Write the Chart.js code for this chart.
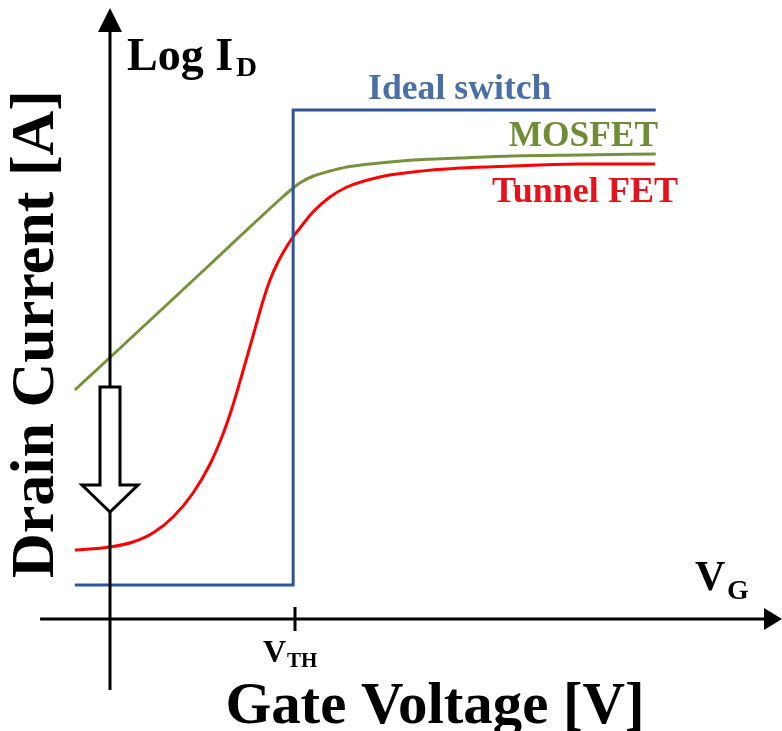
<!DOCTYPE html>
<html><head><meta charset="utf-8">
<script src="https://cdn.jsdelivr.net/npm/chart.js@4.4.0/dist/chart.umd.min.js"></script>
<style>html,body{margin:0;padding:0;background:#fff;overflow:hidden}#wrap{position:relative;width:782px;height:731px}</style>
</head><body><div id="wrap"><canvas id="c"></canvas></div>
<script>
// Schematic transfer characteristics. x: gate voltage (V_TH = 1), y: log drain current (decades)
const seriesNames = ['Ideal switch', 'MOSFET', 'Tunnel FET'];
const idealX  = [-0.19, 0.99, 0.99, 2.95];
const idealY  = [0.68, 0.68, 10.18, 10.18];
const mosfetX = [-0.19, 0.00, 0.50, 0.80, 0.93, 0.99, 1.03, 1.10, 1.19, 1.28, 1.46, 1.64, 1.89, 2.18, 2.54, 2.95];
const mosfetY = [4.58, 5.23, 6.95, 7.99, 8.43, 8.62, 8.73, 8.86, 8.96, 9.04, 9.12, 9.18, 9.22, 9.26, 9.28, 9.30];
const tfetX   = [-0.19, 0.00, 0.124, 0.232, 0.341, 0.449, 0.541, 0.611, 0.665, 0.719, 0.773, 0.827, 0.865, 0.908, 0.957, 0.989, 1.027, 1.097, 1.189, 1.281, 1.459, 1.638, 1.892, 2.178, 2.541, 2.946];
const tfetY   = [1.38, 1.44, 1.54, 1.72, 2.04, 2.52, 3.10, 3.70, 4.28, 4.96, 5.66, 6.36, 6.78, 7.14, 7.46, 7.64, 7.82, 8.14, 8.44, 8.64, 8.84, 8.94, 9.02, 9.06, 9.10, 9.10];
const xTicks  = [1];               // V_TH
const xTickMain = 'V', xTickSub = 'TH';
const yTitleMain = 'Log I', yTitleSub = 'D';
const xTitleMain = 'V', xTitleSub = 'G';
const yAxisTitle = 'Drain Current [A]';
const xAxisTitle = 'Gate Voltage [V]';
const arrowFrom = 4.64, arrowTo = 2.14;   // off-current reduction arrow (at V_G = 0)

const colors = {ideal:'#2f5597', mosfet:'#76923c', tfet:'#ff0000',
  idealText:'#4a6ea6', mosfetText:'#6f8c37', tfetText:'#e8101a'};

const pts = (xs, ys) => xs.map((x, i) => ({x, y: ys[i]}));
const FONT = '"Liberation Serif","Times New Roman",serif';

function txt(ctx, s, x, y, size, color, align, sx) {
  ctx.save();
  ctx.translate(x, y);
  ctx.scale(sx || 1, 1);
  ctx.font = 'bold ' + size + 'px ' + FONT;
  ctx.fillStyle = color;
  ctx.textAlign = align || 'left';
  ctx.textBaseline = 'alphabetic';
  ctx.fillText(s, 0, 0);
  ctx.restore();
}

const decor = {
  id: 'decor',
  afterDatasetsDraw(chart) {
    const ctx = chart.ctx, xs = chart.scales.x, ys = chart.scales.y;
    const X = v => xs.getPixelForValue(v), Y = v => ys.getPixelForValue(v);
    const ox = X(0), oy = Y(0);
    ctx.save();
    ctx.strokeStyle = '#000'; ctx.fillStyle = '#000'; ctx.lineWidth = 3; ctx.lineCap = 'butt';
    // x axis
    const xr = X(xs.max);
    ctx.beginPath(); ctx.moveTo(X(-0.378), oy); ctx.lineTo(xr - 12, oy); ctx.stroke();
    ctx.beginPath(); ctx.moveTo(xr, oy); ctx.lineTo(xr - 18, oy - 11); ctx.lineTo(xr - 18, oy + 11); ctx.closePath(); ctx.fill();
    // y axis
    const yt = Y(12.22);
    ctx.beginPath(); ctx.moveTo(ox, Y(-1.42)); ctx.lineTo(ox, yt + 14); ctx.stroke();
    ctx.beginPath(); ctx.moveTo(ox, yt); ctx.lineTo(ox - 12, yt + 24); ctx.lineTo(ox + 12, yt + 24); ctx.closePath(); ctx.fill();
    // ticks
    xTicks.forEach(t => { ctx.beginPath(); ctx.moveTo(X(t), oy - 12); ctx.lineTo(X(t), oy + 12); ctx.stroke(); });
    // hollow arrow
    const a0 = Y(arrowFrom), a1 = Y(arrowTo), hb = a1 - 27;
    ctx.beginPath();
    ctx.moveTo(ox - 10, a0); ctx.lineTo(ox + 10, a0); ctx.lineTo(ox + 10, hb); ctx.lineTo(ox + 28, hb);
    ctx.lineTo(ox, a1); ctx.lineTo(ox - 28, hb); ctx.lineTo(ox - 10, hb); ctx.closePath();
    ctx.fillStyle = '#fff'; ctx.fill(); ctx.lineJoin = 'miter'; ctx.stroke();
    ctx.restore();

    // texts
    txt(ctx, yTitleMain, ox + 17, 70, 46, '#000', 'left', 1);
    ctx.save(); ctx.font = 'bold 46px ' + FONT; const w1 = ctx.measureText(yTitleMain).width; ctx.restore();
    txt(ctx, yTitleSub, ox + 17 + w1 + 3, 76, 27, '#000', 'left', 1.08);
    txt(ctx, xTitleMain, 695, 590, 42, '#000', 'left', 1);
    txt(ctx, xTitleSub, 727, 599, 28, '#000', 'left', 1);
    xTicks.forEach(t => {
      txt(ctx, xTickMain, X(t) - 32, 662, 32, '#000', 'left', 1);
      txt(ctx, xTickSub, X(t) - 8, 667, 21, '#000', 'left', 1);
    });
    txt(ctx, xAxisTitle, 435, 723, 60, '#000', 'center', 0.98);
    ctx.save(); ctx.translate(53, 334); ctx.rotate(-Math.PI / 2);
    txt(ctx, yAxisTitle, 0, 0, 62, '#000', 'center', 1);
    ctx.restore();
    txt(ctx, seriesNames[0], 368, 99, 35, colors.idealText, 'left', 1.02);
    txt(ctx, seriesNames[1], 658, 146, 35, colors.mosfetText, 'right', 1.01);
    txt(ctx, seriesNames[2], 678, 202, 35, colors.tfetText, 'right', 1.03);
  }
};

new Chart(document.getElementById('c'), {
  type: 'scatter',
  data: {
    datasets: [
      {label: seriesNames[0], data: pts(idealX, idealY), showLine: true, borderColor: colors.ideal, borderWidth: 3, tension: 0, pointRadius: 0, clip: false, borderJoinStyle: 'miter'},
      {label: seriesNames[1], data: pts(mosfetX, mosfetY), showLine: true, borderColor: colors.mosfet, borderWidth: 3, cubicInterpolationMode: 'monotone', pointRadius: 0, clip: false},
      {label: seriesNames[2], data: pts(tfetX, tfetY), showLine: true, borderColor: colors.tfet, borderWidth: 3, cubicInterpolationMode: 'monotone', pointRadius: 0, clip: false}
    ]
  },
  options: {
    responsive: true, maintainAspectRatio: false, animation: false, devicePixelRatio: 1,
    layout: {padding: 0},
    plugins: {legend: {display: false}, tooltip: {enabled: false}},
    scales: {
      x: {type: 'linear', min: -0.5946, max: 3.6324, display: false},
      y: {type: 'linear', min: -2.24, max: 12.38, display: false}
    }
  },
  plugins: [decor]
});
</script></body></html>
